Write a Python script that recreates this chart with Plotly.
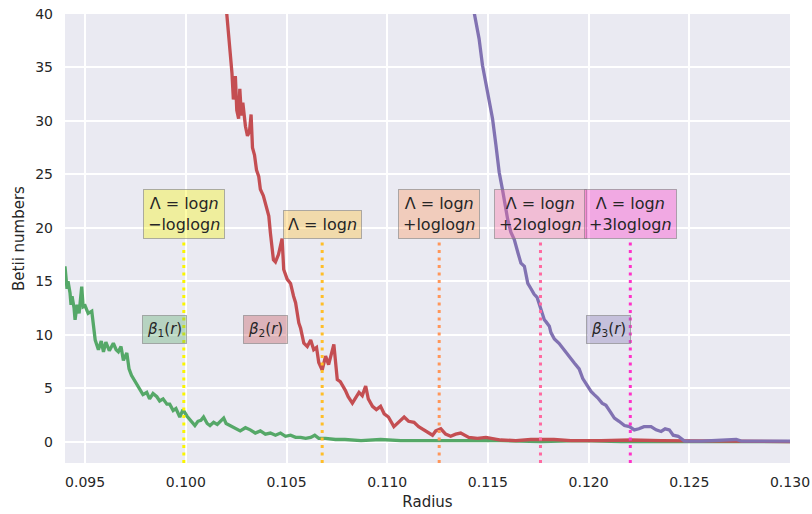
import plotly.graph_objects as go

# ---- data ----
b1_x = [0.09400, 0.09405, 0.09410, 0.09415, 0.09425, 0.09430, 0.09435, 0.09445, 0.09450, 0.09460,
        0.09470, 0.09483, 0.09490, 0.09500, 0.09515, 0.09533, 0.09540, 0.09550, 0.09566, 0.09580,
        0.09591, 0.09603, 0.09620, 0.09640, 0.09654, 0.09665, 0.09678, 0.09690, 0.09707, 0.09718,
        0.09730, 0.09743, 0.09757, 0.09770, 0.09787, 0.09806, 0.09820, 0.09837, 0.09856, 0.09870,
        0.09887, 0.09906, 0.09920, 0.09937, 0.09951, 0.09970, 0.09986, 0.10005, 0.10028, 0.10045,
        0.10060, 0.10075, 0.10088, 0.10106, 0.10120, 0.10138, 0.10156, 0.10170, 0.10188, 0.10200,
        0.10220, 0.10240, 0.10270, 0.10296, 0.10320, 0.10345, 0.10370, 0.10395, 0.10420, 0.10445,
        0.10470, 0.10495, 0.10520, 0.10545, 0.10570, 0.10595, 0.10620, 0.10640, 0.10660, 0.10694,
        0.10743, 0.10790, 0.10870, 0.10967, 0.11067, 0.11166, 0.11266, 0.11415, 0.11564, 0.11763,
        0.11962, 0.12161, 0.12560, 0.13000]
b1_y = [16.4, 15.0, 14.3, 15.0, 13.9, 12.8, 13.6, 12.5, 11.4, 12.8,
        12.0, 14.5, 12.6, 12.7, 12.0, 12.2, 11.0, 9.5, 8.6, 9.4,
        8.4, 9.3, 8.5, 9.2, 8.6, 8.4, 8.9, 7.6, 8.3, 6.8,
        6.2, 5.8, 5.3, 5.0, 4.4, 4.6, 4.0, 4.5, 4.2, 3.8,
        4.0, 3.5, 3.5, 2.9, 3.1, 2.3, 3.0, 2.4, 1.9, 1.5,
        1.9, 2.0, 2.3, 1.7, 1.5, 1.8, 1.6, 1.9, 2.2, 1.7,
        1.5, 1.3, 1.0, 1.3, 1.1, 0.8, 1.0, 0.7, 0.8, 0.6,
        0.8, 0.5, 0.6, 0.4, 0.4, 0.3, 0.4, 0.6, 0.3, 0.3,
        0.2, 0.2, 0.1, 0.2, 0.1, 0.1, 0.1, 0.05, 0.1, 0.0,
        0.1, 0.0, 0.0, 0.0]

b2_x = [0.10201, 0.10211, 0.10220, 0.10229, 0.10236, 0.10246, 0.10253, 0.10262, 0.10268, 0.10276,
        0.10283, 0.10296, 0.10306, 0.10316, 0.10324, 0.10331, 0.10341, 0.10351, 0.10362, 0.10370,
        0.10385, 0.10400, 0.10412, 0.10420, 0.10435, 0.10445, 0.10460, 0.10478, 0.10486, 0.10503,
        0.10520, 0.10535, 0.10545, 0.10561, 0.10570, 0.10586, 0.10603, 0.10620, 0.10635, 0.10649,
        0.10660, 0.10677, 0.10694, 0.10709, 0.10723, 0.10735, 0.10752, 0.10767, 0.10792, 0.10806,
        0.10827, 0.10842, 0.10860, 0.10876, 0.10893, 0.10906, 0.10927, 0.10946, 0.10967, 0.10985,
        0.11006, 0.11033, 0.11056, 0.11084, 0.11106, 0.11133, 0.11156, 0.11183, 0.11206, 0.11225,
        0.11241, 0.11266, 0.11290, 0.11315, 0.11340, 0.11365, 0.11405, 0.11448, 0.11490, 0.11564,
        0.11639, 0.11713, 0.11828, 0.11912, 0.12062, 0.12210, 0.12360, 0.12560, 0.12808, 0.13000]
b2_y = [40.5, 38.5, 36.5, 34.5, 32.0, 34.2, 31.0, 30.2, 33.0, 30.5,
        31.7, 29.5, 28.6, 29.0, 30.6, 27.5, 26.8, 25.4, 24.8, 23.6,
        23.0, 22.0, 21.1, 19.5, 17.0, 16.8, 17.5, 19.0, 16.1, 15.2,
        14.8, 13.6, 13.0, 11.1, 10.6, 9.2, 8.9, 9.5, 8.6, 8.8,
        7.4, 6.7, 8.0, 7.2, 8.2, 9.1, 5.8, 5.6, 4.8, 4.2,
        3.6, 4.0, 4.6, 4.3, 5.2, 4.0, 3.3, 3.0, 3.3, 2.6,
        2.3, 1.4, 1.8, 2.3, 1.9, 1.8, 1.4, 1.1, 0.9, 0.6,
        1.0, 1.2, 0.7, 0.5, 0.7, 0.8, 0.4, 0.3, 0.4, 0.15,
        0.1, 0.2, 0.2, 0.1, 0.1, 0.15, 0.1, 0.05, 0.0, 0.0]

b3_x = [0.11431, 0.11445, 0.11456, 0.11473, 0.11485, 0.11498, 0.11510, 0.11523, 0.11540, 0.11556,
        0.11573, 0.11585, 0.11598, 0.11614, 0.11631, 0.11650, 0.11664, 0.11681, 0.11698, 0.11714,
        0.11729, 0.11744, 0.11764, 0.11780, 0.11789, 0.11805, 0.11813, 0.11830, 0.11853, 0.11880,
        0.11903, 0.11929, 0.11953, 0.11971, 0.11988, 0.12012, 0.12028, 0.12045, 0.12067, 0.12086,
        0.12107, 0.12128, 0.12151, 0.12178, 0.12203, 0.12227, 0.12250, 0.12275, 0.12310, 0.12335,
        0.12360, 0.12380, 0.12401, 0.12420, 0.12445, 0.12476, 0.12560, 0.12659, 0.12733, 0.12758,
        0.12858, 0.13000]
b3_y = [40.2, 38.8, 37.7, 35.2, 34.0, 32.7, 31.5, 30.2, 27.7, 25.2,
        23.5, 22.0, 20.8, 19.6, 18.9, 17.6, 16.7, 16.4, 14.8, 14.3,
        13.8, 13.5, 12.4, 11.4, 11.2, 10.8, 10.2, 9.6, 9.2, 8.5,
        8.0, 7.35, 6.8, 5.9, 5.4, 4.7, 4.4, 4.1, 3.6, 3.4,
        2.8, 2.2, 1.9, 1.5, 1.4, 1.1, 1.2, 1.4, 1.4, 1.1,
        0.95, 1.2, 1.1, 0.6, 0.5, 0.05, 0.05, 0.1, 0.2, 0.05,
        0.05, 0.05]

series_colors = ["#55A868", "#C44E52", "#8172B2"]
series_rgb = [(85, 168, 104), (196, 78, 82), (129, 114, 178)]
beta_labels = ["<i>β</i><sub>1</sub>(<i>r</i>)", "<i>β</i><sub>2</sub>(<i>r</i>)", "<i>β</i><sub>3</sub>(<i>r</i>)"]
beta_label_x = [0.09892, 0.10394, 0.12098]
beta_label_y = 10.5

thr_x = [0.09990, 0.10677, 0.11258, 0.11761, 0.12207]
thr_rgb = [(250, 245, 0), (255, 190, 40), (255, 150, 90), (255, 105, 160), (255, 50, 200)]
thr_labels = ["Λ = log<i>n</i><br>−loglog<i>n</i>",
              "Λ = log<i>n</i>",
              "Λ = log<i>n</i><br>+loglog<i>n</i>",
              "Λ = log<i>n</i><br>+2loglog<i>n</i>",
              "Λ = log<i>n</i><br>+3loglog<i>n</i>"]
thr_label_y = 19.0
thr_line_top = 18.7

x_ticks = [0.095, 0.100, 0.105, 0.110, 0.115, 0.120, 0.125, 0.130]
y_ticks = [0, 5, 10, 15, 20, 25, 30, 35, 40]
x_range = [0.094, 0.130]
y_range = [-2, 40]


def rgba(c, a):
    return f"rgba({c[0]},{c[1]},{c[2]},{a})"


fig = go.Figure()
for xs, ys, col in zip([b1_x, b2_x, b3_x], [b1_y, b2_y, b3_y], series_colors):
    fig.add_trace(go.Scatter(x=xs, y=ys, mode="lines", line=dict(color=col, width=3.3),
                             hoverinfo="skip"))

for xv, c in zip(thr_x, thr_rgb):
    fig.add_trace(go.Scatter(x=[xv, xv], y=[y_range[0], thr_line_top], mode="lines",
                             line=dict(color=rgba(c, 1), width=3, dash="3px,4.5px"),
                             hoverinfo="skip"))

annotations = []
for xv, c, t in zip(thr_x, thr_rgb, thr_labels):
    annotations.append(dict(x=xv, y=thr_label_y, xref="x", yref="y", text=t, showarrow=False,
                            xanchor="center", yanchor="bottom", align="center",
                            font=dict(family="DejaVu Sans", size=16, color="#262626"),
                            bgcolor=rgba(c, 0.35), bordercolor="rgba(128,128,128,0.6)",
                            borderwidth=1, borderpad=4))
for xv, c, t in zip(beta_label_x, series_rgb, beta_labels):
    annotations.append(dict(x=xv, y=beta_label_y, xref="x", yref="y", text=t, showarrow=False,
                            xanchor="center", yanchor="middle", align="center",
                            font=dict(family="DejaVu Sans", size=15, color="#262626"),
                            bgcolor=rgba(c, 0.35), bordercolor="rgba(128,128,128,0.6)",
                            borderwidth=1, borderpad=4))

fig.update_layout(
    width=812, height=514,
    margin=dict(l=65, r=22, t=14, b=51),
    plot_bgcolor="#EAEAF2", paper_bgcolor="white",
    showlegend=False,
    font=dict(family="DejaVu Sans", size=14, color="#262626"),
    annotations=annotations,
)
fig.update_xaxes(range=x_range, tickvals=x_ticks, ticktext=[f"{v:.3f}" for v in x_ticks],
                 showgrid=True, gridcolor="white", gridwidth=1.6, zeroline=False, showline=False,
                 ticks="", ticklabelstandoff=9, automargin=False,
                 title=dict(text="Radius", standoff=7, font=dict(size=15)))
fig.update_yaxes(range=y_range, tickvals=y_ticks, ticktext=[str(v) for v in y_ticks],
                 showgrid=True, gridcolor="white", gridwidth=1.6, zeroline=False, showline=False,
                 ticks="", ticklabelstandoff=11, automargin=False,
                 title=dict(text="Betii numbers", standoff=6, font=dict(size=15)))

fig.write_html("out.html")
